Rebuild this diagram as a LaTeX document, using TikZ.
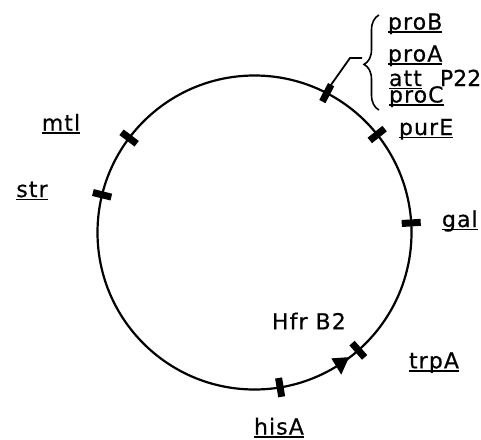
\documentclass[tikz,border=0pt]{standalone}
\usepackage{fontspec}
\newfontfamily\labfont[LetterSpace=5,FakeBold=0.5]{DejaVu Sans}
\newfontfamily\labtight[FakeBold=0.5]{DejaVu Sans}
\usetikzlibrary{calc,decorations.pathreplacing}
\begin{document}
\begin{tikzpicture}[x=1pt,y=1pt,
  every node/.style={inner sep=0pt,outer sep=0pt},
  lab/.style={anchor=base west,font=\labfont\fontsize{22}{26}\selectfont},
  labc/.style={anchor=base,font=\labfont\fontsize{22}{26}\selectfont},
  uline/.style={line width=1.7pt},
  ring/.style={line width=2.2pt},
  marker/.style={line width=7pt},
  leader/.style={line width=1.8pt},
  bracestyle/.style={line width=1.6pt,decorate,decoration={brace,amplitude=15pt,aspect=0.48}}]
\useasboundingbox (0,0) rectangle (481,-439);

% chromosome ring
\coordinate (c) at (254.5,-232.5);
\draw[ring] (c) circle[radius=157];

% gene positions on the ring
\foreach \nm/\ang in {mtl/143, str/166.1, gal/3.5, his/-80.6, trp/-48.6, pro/62.6, pur/38.6}{
  \coordinate (t\nm) at ($(c)+(\ang:157)$);
  \coordinate (t\nm-in) at ($(c)+(\ang:147.5)$);
  \coordinate (t\nm-out) at ($(c)+(\ang:166.5)$);
  \draw[marker] (t\nm-in) -- (t\nm-out);
}

% direction of transfer (Hfr origin)
\coordinate (atip) at ($(c)+(-52.8:156.5)$);
\coordinate (abase1) at ($(c)+(-58.6:147.5)$);
\coordinate (abase2) at ($(c)+(-58.6:166.5)$);
\fill (atip) -- (abase1) -- (abase2) -- cycle;

% gene labels
\node[labc] (mtl) at (61,-130.7) {mtl};
\node[labc] (str) at (32,-197) {str};
\node[lab] (gal) at (442,-227) {gal};
\node[lab] (trpA) at (409,-368.3) {trpA};
\node[lab] (hisA) at (254,-434.5) {hisA};
\node[lab] (purE) at (399,-135) {purE};
\node[lab] (hfr) at (272,-329.3) {Hfr B2};

% clustered loci
\node[lab] (proB) at (388,-29.5) {proB};
\node[lab] (proA) at (388,-61.5) {proA};
\node[lab] (att) at (389,-86) {att};
\node[anchor=base west,font=\labtight\fontsize{22}{26}\selectfont] (p22) at (440,-86) {P22};
\node[lab] (proC) at (389,-102.5) {pro\kern1pt C};

\foreach \n in {mtl,str,gal,trpA,hisA,purE,proB,proA,att,proC}{
  \draw[uline] ([yshift=-2.5pt]\n.base west) -- ([yshift=-2.5pt]\n.base east);
}

% brace grouping the cluster and its leader to the ring
\draw[bracestyle] (379,-110) -- (379,-15);
\coordinate (bend) at (350,-58);
\coordinate (btip) at (362,-58);
\draw[leader] (tpro-out) -- (bend) -- (btip);
\end{tikzpicture}
\end{document}
